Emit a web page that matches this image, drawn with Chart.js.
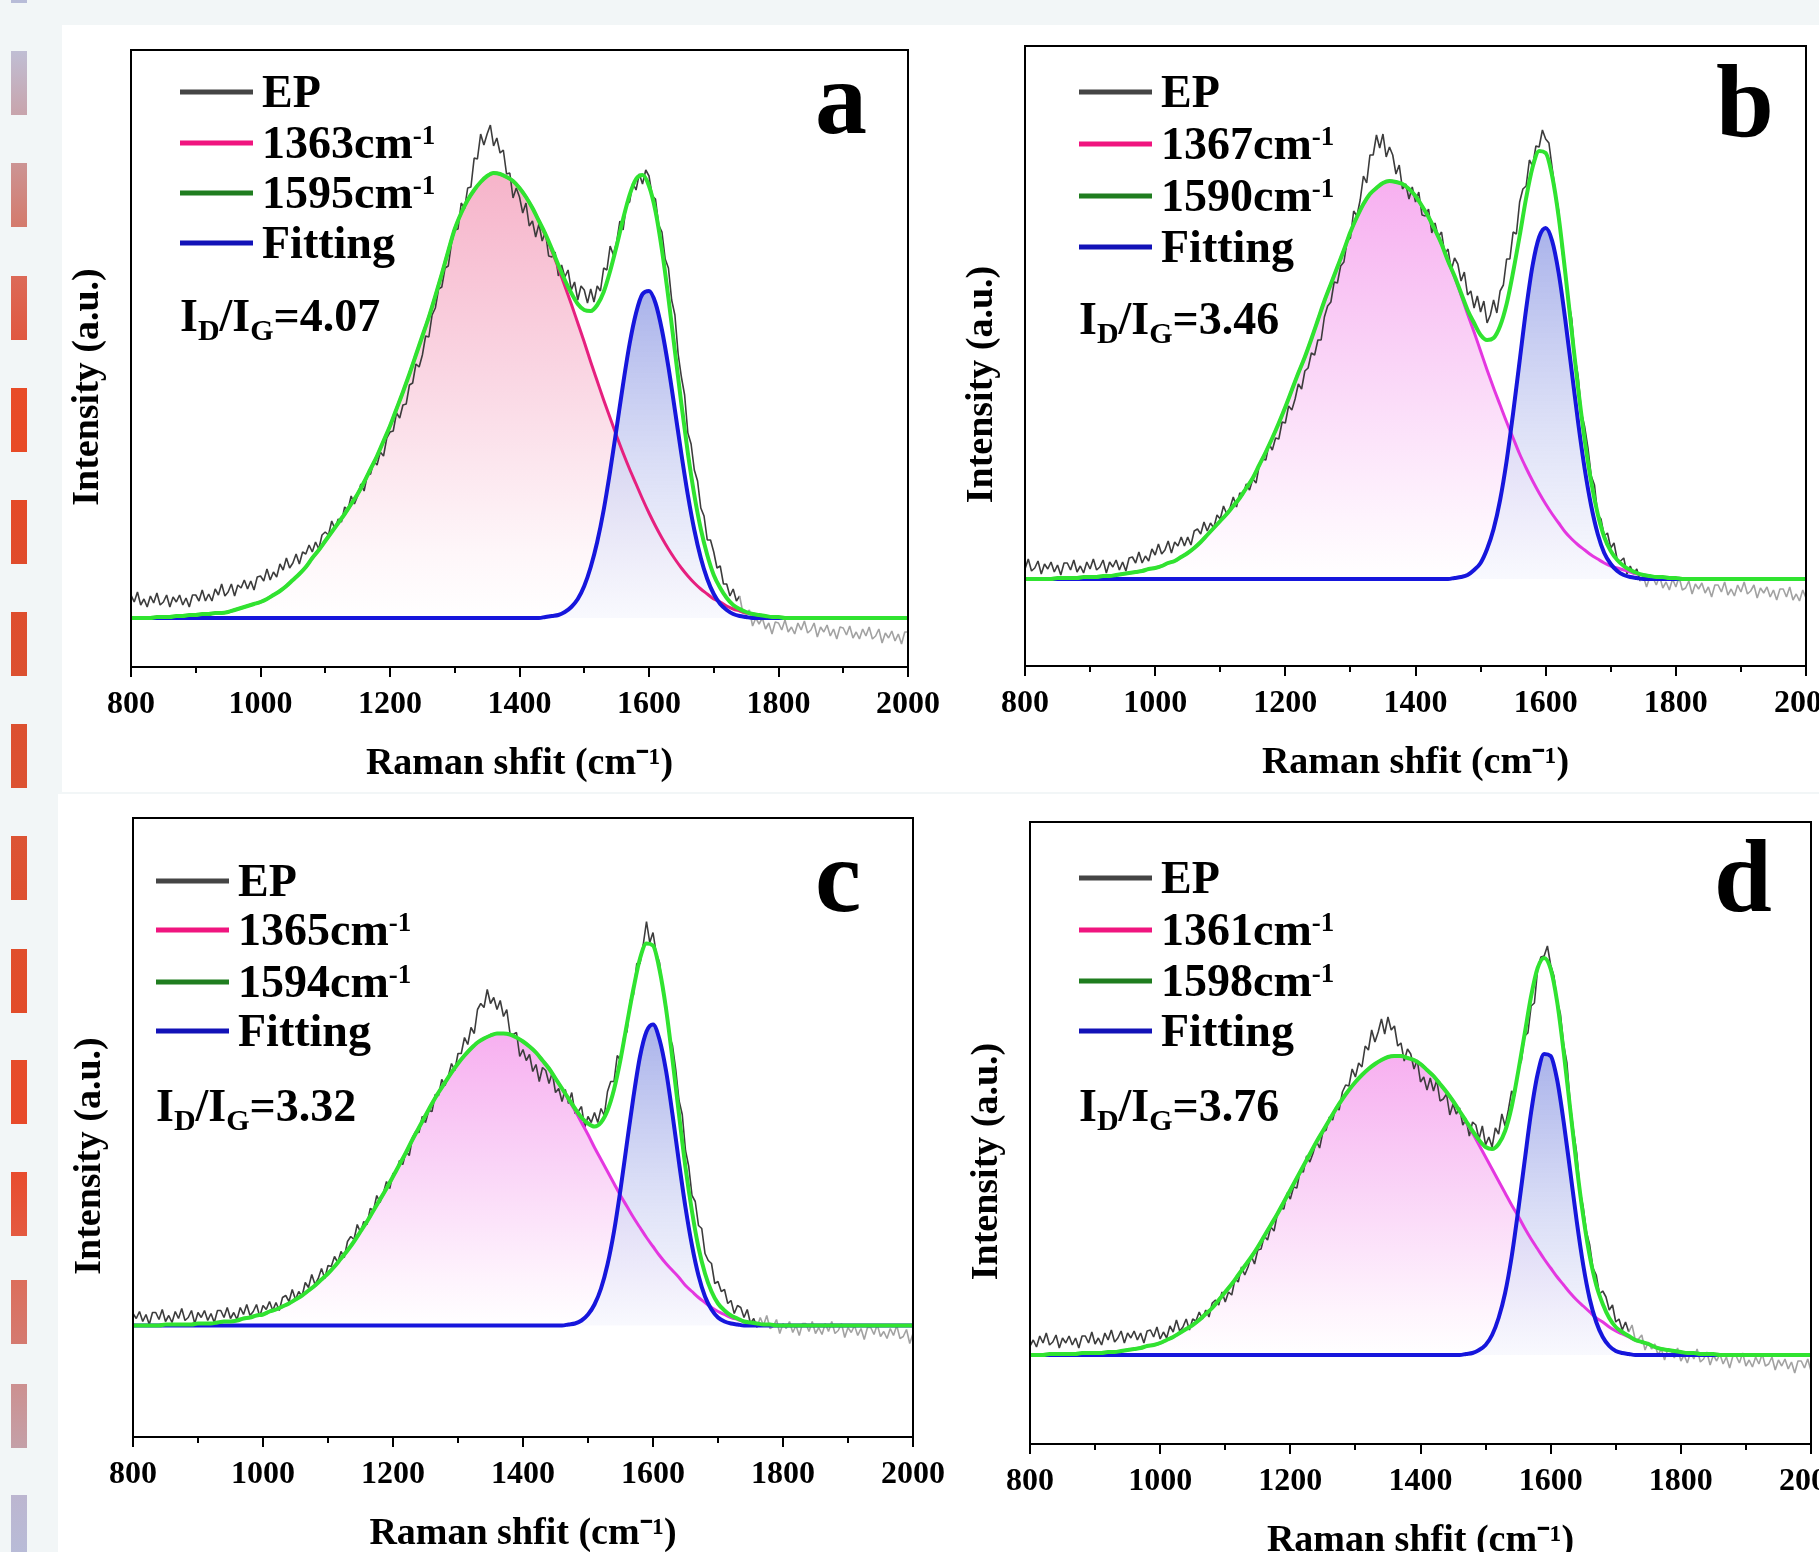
<!DOCTYPE html>
<html><head><meta charset="utf-8">
<script src="https://cdn.jsdelivr.net/npm/chart.js@4.4.1/dist/chart.umd.min.js"></script>
<style>
html,body{margin:0;padding:0;width:1819px;height:1552px;overflow:hidden;background:#f2f6f7;}
.box{position:absolute;background:#fff;}
canvas{position:absolute;}
#ov{position:absolute;left:0;top:0;}
</style></head><body>
<div class="box" style="left:62px;top:25px;width:1757px;height:767px"></div>
<div class="box" style="left:58px;top:794px;width:1761px;height:758px"></div>
<canvas id="ca" width="897" height="767" style="left:51px;top:30px"></canvas>
<canvas id="cb" width="901" height="770" style="left:945px;top:26px"></canvas>
<canvas id="cc" width="900" height="769" style="left:53px;top:798px"></canvas>
<canvas id="cd" width="901" height="772" style="left:950px;top:802px"></canvas>
<svg id="ov" width="1819" height="1552"></svg>
<script>
// ---------- x grids & ticks ----------
const EP_X = Array.from({length: 241}, (_, i) => 800 + 5 * i);
const FIT_X = Array.from({length: 121}, (_, i) => 800 + 10 * i);
const X_TICKS = [800, 1000, 1200, 1400, 1600, 1800, 2000];
const X_MINOR = [900, 1100, 1300, 1500, 1700, 1900];

// ---------- panel a ----------
const EP_A = [
23,16,26,13,19,11,22,15,25,13,16,23,11,21,16,23,13,20,11,23,
23,17,28,17,24,17,29,23,34,22,26,34,22,33,30,38,29,37,28,41,
42,37,49,38,46,41,54,48,60,50,55,64,54,66,64,73,66,76,69,83,
86,83,97,89,99,96,111,108,122,114,122,134,127,143,144,157,153,166,162,180,
186,187,205,200,213,214,233,235,254,251,263,282,281,303,310,329,331,350,352,375,
388,389,415,409,430,431,460,459,484,473,484,493,472,480,465,468,444,445,420,430,
421,405,415,392,397,381,394,377,386,362,361,366,342,353,341,348,328,336,318,332,
328,315,329,316,332,327,350,348,372,363,376,397,388,413,416,435,428,444,434,448,
442,422,419,393,386,359,350,318,303,264,241,223,185,174,148,137,110,102,78,78,
66,50,52,34,34,22,29,17,22,5,4,8,-8,0,-6,0,-11,-5,-16,-4,
-5,-12,-2,-14,-9,-16,-5,-12,-3,-15,-12,-5,-19,-9,-14,-7,-18,-11,-21,-9,
-10,-17,-8,-20,-14,-21,-11,-18,-9,-21,-18,-11,-25,-15,-20,-13,-23,-16,-26,-14,
-14];
const D_A = [
0,0,0,0,1,1,1,2,2,3,
3,4,4,5,5,6,8,10,12,14,
16,19,23,27,32,38,44,51,60,68,
77,86,95,104,114,124,136,149,162,177,
192,209,226,244,263,282,301,322,344,367,
389,405,418,428,436,442,445,444,441,437,
430,421,410,397,383,367,350,332,314,295,
276,256,237,218,200,182,165,149,134,119,
105,92,80,69,59,50,42,35,29,24,
19,16,12,9,7,5,4,3,2,1,
1,0,0,0,0,0,0,0,0,0,
0,0,0,0,0,0,0,0,0,0,
0];
const G_A = [
0,0,0,0,0,0,0,0,0,0,
0,0,0,0,0,0,0,0,0,0,
0,0,0,0,0,0,0,0,0,0,
0,0,0,0,0,0,0,0,0,0,
0,0,0,0,0,0,0,0,0,0,
0,0,0,0,0,0,0,0,0,0,
0,0,0,0,1,2,3,6,11,19,
32,51,76,108,147,190,234,274,305,324,
327,315,288,251,208,164,123,88,60,39,
24,14,8,4,2,1,0,0,0,0,
0,0,0,0,0,0,0,0,0,0,
0,0,0,0,0,0,0,0,0,0,
0];
const FIT_A = [
0,0,0,0,1,1,1,2,2,3,
3,4,4,5,5,6,8,10,12,14,
16,19,23,27,32,38,44,51,60,68,
77,86,95,104,114,124,136,149,162,177,
192,209,226,244,263,282,301,322,344,367,
389,405,418,428,436,442,445,444,441,437,
430,421,410,397,384,369,353,338,325,314,
308,307,313,326,347,372,399,423,439,443,
432,407,368,320,267,214,165,123,89,63,
43,30,20,13,9,6,4,3,2,1,
1,0,0,0,0,0,0,0,0,0,
0,0,0,0,0,0,0,0,0,0,
0];

// ---------- panel b ----------
const EP_B = [
10,20,8,11,18,5,15,10,17,7,14,4,16,16,9,19,7,13,6,17,
10,20,9,12,19,6,17,12,19,9,17,8,21,22,16,27,16,23,18,30,
24,35,25,29,38,26,37,33,42,33,42,34,48,50,45,57,48,56,51,64,
60,73,65,71,82,72,86,84,95,89,100,96,114,120,119,135,129,141,140,157,
156,173,169,180,195,190,208,211,226,224,239,239,262,273,277,297,296,313,317,338,
341,368,363,379,403,396,424,424,444,431,445,422,432,424,405,414,390,395,380,392,
377,387,364,363,370,346,356,342,347,325,330,309,321,315,298,307,284,288,271,283,
267,278,256,264,279,266,288,294,320,320,347,345,377,390,393,419,413,433,432,449,
440,436,411,387,368,328,311,279,260,222,202,166,152,131,103,94,64,60,43,46,
31,36,19,18,21,5,13,5,10,-2,3,-8,2,1,-6,3,-9,-3,-11,0,
-8,2,-11,-9,-2,-15,-5,-10,-4,-14,-8,-18,-6,-6,-13,-3,-16,-10,-17,-6,
-13,-3,-15,-12,-6,-19,-9,-14,-8,-18,-11,-21,-10,-10,-18,-8,-21,-15,-22,-11,
-19];
const D_B = [
0,0,0,0,0,1,1,1,1,2,
2,2,3,3,4,5,6,7,8,10,
11,13,16,18,22,26,31,37,44,51,
58,65,73,81,91,101,114,127,141,156,
172,189,206,222,240,259,278,295,312,329,
347,362,375,385,391,396,398,397,395,390,
383,373,362,349,335,318,302,284,265,247,
228,209,191,174,157,141,125,111,98,86,
75,65,56,47,40,34,29,24,20,16,
13,11,9,7,5,4,3,2,2,1,
1,0,0,0,0,0,0,0,0,0,
0,0,0,0,0,0,0,0,0,0,
0];
const G_B = [
0,0,0,0,0,0,0,0,0,0,
0,0,0,0,0,0,0,0,0,0,
0,0,0,0,0,0,0,0,0,0,
0,0,0,0,0,0,0,0,0,0,
0,0,0,0,0,0,0,0,0,0,
0,0,0,0,0,0,0,0,0,0,
0,0,0,0,0,0,1,2,4,9,
16,30,50,79,118,166,218,270,314,342,
351,338,306,260,208,156,110,73,45,26,
15,8,4,2,1,0,0,0,0,0,
0,0,0,0,0,0,0,0,0,0,
0,0,0,0,0,0,0,0,0,0,
0];
const FIT_B = [
0,0,0,0,0,1,1,1,1,2,
2,2,3,3,4,5,6,7,8,10,
11,13,16,18,22,26,31,37,44,51,
58,65,73,81,91,101,114,127,141,156,
172,189,206,222,240,259,278,295,312,329,
347,362,375,385,391,396,398,397,395,390,
383,373,362,349,335,318,303,286,269,256,
244,239,241,253,275,307,343,381,412,428,
426,403,362,307,248,190,139,97,65,42,
28,19,13,9,6,4,3,2,2,1,
1,0,0,0,0,0,0,0,0,0,
0,0,0,0,0,0,0,0,0,0,
0];

// ---------- panel c ----------
const EP_C = [
12,7,14,4,11,1,13,13,6,16,4,10,3,14,7,17,5,8,15,2,
13,8,15,5,12,3,15,15,8,18,7,13,6,18,11,21,10,14,21,9,
20,16,24,15,23,15,28,30,24,36,26,34,29,43,38,51,41,47,57,47,
60,59,69,63,74,68,84,89,86,101,93,104,101,117,115,130,123,132,144,137,
152,153,165,161,174,170,188,194,193,209,203,215,214,231,230,246,240,249,262,255,
272,272,288,281,298,292,316,322,318,336,322,328,316,325,309,316,292,291,293,269,
276,265,271,254,261,244,258,255,242,253,233,237,224,236,222,233,212,214,219,198,
209,203,213,203,217,210,234,244,244,270,265,288,294,325,331,362,362,381,404,383,
393,372,363,334,322,290,280,256,225,211,175,159,130,124,100,97,72,65,62,42,
44,34,36,22,25,12,20,18,8,16,2,7,-2,8,0,10,-3,-1,6,-8,
2,-3,4,-7,0,-10,2,2,-6,4,-8,-2,-9,2,-6,4,-8,-5,2,-12,
-2,-7,0,-10,-3,-14,-2,-2,-9,1,-11,-6,-13,-3,-10,0,-13,-11,-4,-18,
-8];
const D_C = [
0,0,0,0,0,1,1,1,1,1,
2,2,2,3,4,4,5,7,8,10,
11,14,16,19,22,26,30,35,40,46,
52,59,67,75,84,94,104,115,126,137,
149,161,173,186,198,210,222,233,243,253,
262,270,277,283,287,290,292,292,291,288,
284,279,273,265,257,247,237,226,215,203,
191,178,166,154,142,130,119,108,98,88,
79,70,62,55,48,40,34,28,23,18,
14,11,8,6,4,3,2,1,1,0,
0,0,0,0,0,0,0,0,0,0,
0,0,0,0,0,0,0,0,0,0,
0];
const G_C = [
0,0,0,0,0,0,0,0,0,0,
0,0,0,0,0,0,0,0,0,0,
0,0,0,0,0,0,0,0,0,0,
0,0,0,0,0,0,0,0,0,0,
0,0,0,0,0,0,0,0,0,0,
0,0,0,0,0,0,0,0,0,0,
0,0,0,0,0,0,0,1,2,5,
11,21,37,61,94,136,183,229,269,294,
301,286,255,211,163,118,80,50,29,16,
8,4,2,1,0,0,0,0,0,0,
0,0,0,0,0,0,0,0,0,0,
0,0,0,0,0,0,0,0,0,0,
0];
const FIT_C = [
0,0,0,0,0,1,1,1,1,1,
2,2,2,3,4,4,5,7,8,10,
11,14,16,19,22,26,30,35,40,46,
52,59,67,75,84,94,104,115,126,137,
149,161,173,186,198,210,222,233,243,253,
262,270,277,283,287,290,292,292,291,288,
284,279,273,265,257,247,237,227,217,208,
202,199,203,215,236,266,302,337,367,382,
380,356,317,266,211,158,114,78,52,34,
22,15,10,7,4,3,2,1,1,0,
0,0,0,0,0,0,0,0,0,0,
0,0,0,0,0,0,0,0,0,0,
0];

// ---------- panel d ----------
const EP_D = [
9,15,8,19,12,22,10,13,20,7,17,12,19,10,17,7,19,19,12,23,
11,17,10,22,15,25,13,17,24,12,22,17,24,15,22,12,24,25,18,28,
16,23,17,29,23,35,24,28,36,25,36,34,43,36,45,38,52,55,50,63,
53,63,60,76,73,88,80,88,99,91,105,106,119,115,128,124,141,147,146,162,
156,168,167,184,183,199,193,202,214,207,223,225,238,235,248,245,263,270,269,286,
278,292,288,309,305,325,313,323,336,321,338,325,329,309,312,294,306,301,286,295,
273,278,265,277,264,275,254,256,261,240,251,241,247,230,236,219,233,230,216,229,
210,218,208,227,221,241,229,245,264,259,286,294,319,322,349,352,386,398,399,409,
390,379,354,341,310,292,251,225,202,164,148,123,110,87,80,61,64,58,45,50,
33,36,25,33,23,30,15,16,20,5,13,6,11,0,6,-5,6,5,-3,7,
-6,0,-8,3,-4,6,-7,-4,3,-10,0,-6,1,-9,-2,-13,-1,-1,-8,2,
-11,-5,-12,-2,-9,1,-11,-9,-2,-15,-5,-11,-4,-14,-7,-18,-6,-6,-13,-4,
-16];
const D_D = [
0,0,0,1,1,1,1,1,2,2,
2,2,3,3,4,5,6,7,9,10,
12,15,18,22,26,30,35,41,47,55,
63,71,80,89,98,108,119,130,141,153,
165,177,189,201,213,224,235,246,256,265,
273,280,286,291,295,298,299,299,297,295,
291,285,279,271,263,254,244,233,222,210,
198,186,174,162,150,139,127,116,106,96,
87,78,70,62,55,49,43,37,33,28,
24,21,18,15,13,11,8,6,5,4,
3,2,2,1,1,1,0,0,0,0,
0,0,0,0,0,0,0,0,0,0,
0];
const G_D = [
0,0,0,0,0,0,0,0,0,0,
0,0,0,0,0,0,0,0,0,0,
0,0,0,0,0,0,0,0,0,0,
0,0,0,0,0,0,0,0,0,0,
0,0,0,0,0,0,0,0,0,0,
0,0,0,0,0,0,0,0,0,0,
0,0,0,0,0,0,0,1,2,5,
10,20,37,62,98,144,194,243,281,301,
299,275,233,184,134,90,56,33,18,9,
4,2,1,0,0,0,0,0,0,0,
0,0,0,0,0,0,0,0,0,0,
0,0,0,0,0,0,0,0,0,0,
0];
const FIT_D = [
0,0,0,1,1,1,1,1,2,2,
2,2,3,3,4,5,6,7,9,10,
12,15,18,22,26,30,35,41,47,55,
63,71,80,89,98,108,119,130,141,153,
165,177,189,201,213,224,235,246,256,265,
273,280,286,291,295,298,299,299,297,295,
291,285,279,271,263,254,244,234,224,215,
208,206,211,224,248,283,321,359,387,397,
386,353,303,246,189,139,99,70,51,37,
28,23,19,15,13,11,8,6,5,4,
3,2,2,1,1,1,0,0,0,0,
0,0,0,0,0,0,0,0,0,0,
0];

// ---------- texts ----------
const LEGEND_A = ['EP', '1363cm^-1', '1595cm^-1', 'Fitting'];
const LEGEND_B = ['EP', '1367cm^-1', '1590cm^-1', 'Fitting'];
const LEGEND_C = ['EP', '1365cm^-1', '1594cm^-1', 'Fitting'];
const LEGEND_D = ['EP', '1361cm^-1', '1598cm^-1', 'Fitting'];
const RATIOS = ['4.07', '3.46', '3.32', '3.76'];
const LETTERS = ['a', 'b', 'c', 'd'];
const X_TITLE = 'Raman shfit (cm\u207B\u00B9)';
const Y_TITLE = 'Intensity (a.u.)';

const SERIF = "'Liberation Serif', 'Times New Roman', serif";
Chart.defaults.font.family = SERIF;

const PINK_A_STOPS = [[0, 'rgb(246,180,202)'], [0.45, 'rgb(250,214,227)'], [0.85, 'rgb(254,246,249)'], [1, 'rgb(255,255,255)']];
const PINK_STOPS = [[0, 'rgb(247,176,240)'], [0.45, 'rgb(250,212,247)'], [0.85, 'rgb(254,244,253)'], [1, 'rgb(255,255,255)']];
const BLUE_STOPS = [[0, 'rgba(160,170,232,0.9)'], [0.5, 'rgba(205,210,243,0.78)'], [1, 'rgba(244,245,253,0.6)']];

const PANELS = [
  {id: 'ca', ep: EP_A, d: D_A, g: G_A, fit: FIT_A, yMin: -49, yMax: 568, light: 1740, pink: '#e6207f', stops: PINK_A_STOPS,
   legend: LEGEND_A, lx: 180, ly: [92, 143, 193, 243], tx: 262, rx: 180, ry: 331, cx: 815, cy: 133},
  {id: 'cb', ep: EP_B, d: D_B, g: G_B, fit: FIT_B, yMin: -87, yMax: 533, light: 1745, pink: '#e437e0', stops: PINK_STOPS,
   legend: LEGEND_B, lx: 1079, ly: [92, 144, 196, 247], tx: 1161, rx: 1079, ry: 334, cx: 1716, cy: 136},
  {id: 'cc', ep: EP_C, d: D_C, g: G_C, fit: FIT_C, yMin: -111.5, yMax: 507.5, light: 1760, pink: '#e437e0', stops: PINK_STOPS,
   legend: LEGEND_C, lx: 156, ly: [881, 930, 982, 1031], tx: 238, rx: 156, ry: 1121, cx: 815, cy: 911},
  {id: 'cd', ep: EP_D, d: D_D, g: G_D, fit: FIT_D, yMin: -89, yMax: 533, light: 1720, pink: '#e437e0', stops: PINK_STOPS,
   legend: LEGEND_D, lx: 1079, ly: [878, 930, 981, 1031], tx: 1161, rx: 1079, ry: 1121, cx: 1714, cy: 911},
];

function pts(xs, ys) { return xs.map((x, i) => ({x: x, y: ys[i]})); }

function gradientFill(stops, arr) {
  return (context) => {
    const chart = context.chart;
    if (!chart.chartArea || !chart.scales.y) return 'rgba(0,0,0,0)';
    const y = chart.scales.y;
    const top = y.getPixelForValue(Math.max.apply(null, arr));
    const bot = y.getPixelForValue(0);
    const g = chart.ctx.createLinearGradient(0, top, 0, bot);
    stops.forEach(s => g.addColorStop(s[0], s[1]));
    return g;
  };
}

const framePlugin = {
  id: 'frame',
  afterDraw(chart) {
    const ctx = chart.ctx, a = chart.chartArea, x = chart.scales.x;
    ctx.save();
    ctx.strokeStyle = '#000';
    ctx.lineWidth = 2;
    ctx.strokeRect(a.left, a.top, a.right - a.left, a.bottom - a.top);
    ctx.beginPath();
    X_MINOR.forEach(v => {
      const px = Math.round(x.getPixelForValue(v));
      ctx.moveTo(px, a.bottom);
      ctx.lineTo(px, a.bottom + 6);
    });
    ctx.stroke();
    ctx.restore();
  }
};

const NBSP = '\u00A0\u00A0\u00A0\u00A0\u00A0\u00A0';

PANELS.forEach(p => {
  new Chart(document.getElementById(p.id), {
    type: 'line',
    data: {
      datasets: [
        {label: 'Fit envelope', data: pts(FIT_X, p.fit), borderColor: '#30e330', borderWidth: 4,
         pointRadius: 0, fill: false, cubicInterpolationMode: 'monotone'},
        {label: 'G band', data: pts(FIT_X, p.g), borderColor: '#1616dc', borderWidth: 4,
         pointRadius: 0, fill: {value: 0}, backgroundColor: gradientFill(BLUE_STOPS, p.g), cubicInterpolationMode: 'monotone'},
        {label: 'D band', data: pts(FIT_X, p.d), borderColor: p.pink, borderWidth: 3,
         pointRadius: 0, fill: {value: 0}, backgroundColor: gradientFill(p.stops, p.d), cubicInterpolationMode: 'monotone'},
        {label: 'EP', data: pts(EP_X, p.ep), borderColor: '#3c3c3c', borderWidth: 1.6, borderJoinStyle: 'bevel',
         pointRadius: 0, fill: false, tension: 0,
         segment: {borderColor: c => (c.p0.parsed.x >= p.light ? '#a2a2a2' : undefined)}},
      ]
    },
    options: {
      responsive: false, animation: false, devicePixelRatio: 1,
      layout: {padding: {left: 0, right: 40, top: 20, bottom: 0}},
      plugins: {legend: {display: false}, tooltip: {enabled: false}, filler: {drawTime: 'beforeDatasetsDraw'}},
      scales: {
        x: {
          type: 'linear', min: 800, max: 2000,
          afterBuildTicks: s => { s.ticks = X_TICKS.map(v => ({value: v})); },
          afterFit: s => { s.height = 130; s.paddingLeft = 0; s.paddingRight = 0; },
          ticks: {font: {family: SERIF, weight: 'bold', size: 32}, color: '#000', padding: 9,
                  maxRotation: 0, minRotation: 0, autoSkip: false, callback: v => String(v)},
          grid: {display: true, drawOnChartArea: false, drawTicks: true, tickLength: 10, color: '#000', lineWidth: 2},
          border: {display: false},
          title: {display: true, text: X_TITLE, color: '#000', font: {family: SERIF, weight: 'bold', size: 38},
                  padding: {top: 0, bottom: 10}}
        },
        y: {
          type: 'linear', min: p.yMin, max: p.yMax,
          afterFit: s => { s.width = 80; s.paddingTop = 0; s.paddingBottom = 0; },
          ticks: {display: false}, grid: {display: false}, border: {display: false},
          title: {display: true, text: Y_TITLE + NBSP, color: '#000', font: {family: SERIF, weight: 'bold', size: 38},
                  padding: {top: 14, bottom: 0}}
        }
      }
    },
    plugins: [framePlugin]
  });
});

// ---------- overlay: decorative strip, legends, ratio labels, panel letters ----------
const NS = 'http://www.w3.org/2000/svg';
const svg = document.getElementById('ov');
function el(tag, attrs, parent) {
  const e = document.createElementNS(NS, tag);
  for (const k in attrs) e.setAttribute(k, attrs[k]);
  (parent || svg).appendChild(e);
  return e;
}
function span(parent, txt, attrs) {
  const t = el('tspan', attrs || {}, parent);
  t.textContent = txt;
  return t;
}
const BAR_TOPS = [-61, 51, 163, 276, 388, 500, 612, 724, 836, 949, 1060, 1172, 1280, 1384, 1495];
const BAR_COLS = [['#b4b8d4','#b8bcd8'],['#c0bed4','#c8a4ac'],['#cc9494','#d47a6c'],['#dc6a58','#e05840'],
  ['#e84c28','#e84a26'],['#e44a28','#e04c2c'],['#de4e2e','#dc5030'],['#dc5030','#dc5232'],['#dc5434','#de5030'],
  ['#e04e2c','#e24c2a'],['#e64c2a','#e84a2a'],['#e84c2e','#e45a40'],['#dc6e5c','#d47a70'],['#cc9090','#c4a0a8'],['#bcb6d0','#b8bcd8']];
const defs = el('defs', {});
BAR_TOPS.forEach((y, i) => {
  const lg = el('linearGradient', {id: 'bg' + i, x1: 0, y1: 0, x2: 0, y2: 1}, defs);
  el('stop', {offset: 0, 'stop-color': BAR_COLS[i][0]}, lg);
  el('stop', {offset: 1, 'stop-color': BAR_COLS[i][1]}, lg);
  el('rect', {x: 11, y: y, width: 16, height: 64, fill: 'url(#bg' + i + ')'});
});

const LEG_COLORS = ['#454545', '#f0157f', '#1f7d1f', '#1212b8'];
PANELS.forEach((p, k) => {
  p.legend.forEach((lab, i) => {
    el('rect', {x: p.lx, y: p.ly[i] - 2.5, width: 73, height: 5, fill: LEG_COLORS[i]});
    const t = el('text', {x: p.tx, y: p.ly[i] + 15, 'font-family': SERIF, 'font-weight': 'bold', 'font-size': 46, fill: '#000'});
    const parts = lab.split('^');
    span(t, parts[0]);
    if (parts[1]) span(t, parts[1], {dy: -14, 'font-size': 27});
  });
  const r = el('text', {x: p.rx, y: p.ry, 'font-family': SERIF, 'font-weight': 'bold', 'font-size': 46, fill: '#000'});
  span(r, 'I');
  span(r, 'D', {dy: 9, 'font-size': 30});
  span(r, '/I', {dy: -9});
  span(r, 'G', {dy: 9, 'font-size': 30});
  span(r, '=' + RATIOS[k], {dy: -9});
  const L = el('text', {x: p.cx, y: p.cy, 'font-family': SERIF, 'font-weight': 'bold', 'font-size': 104, fill: '#000'});
  L.textContent = LETTERS[k];
});
</script>
</body></html>
